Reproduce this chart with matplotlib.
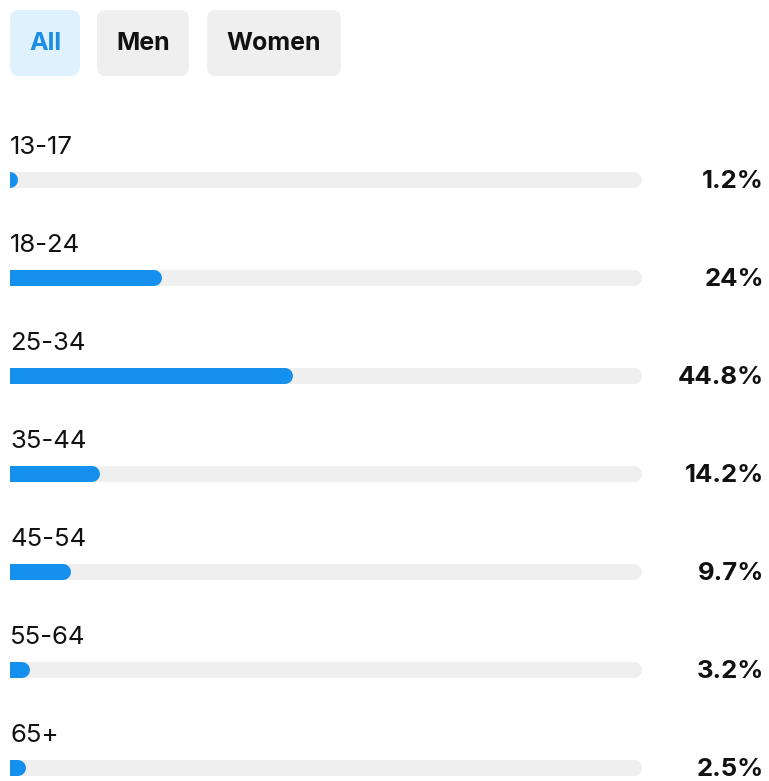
import matplotlib
matplotlib.use('Agg')
import matplotlib.pyplot as plt
from matplotlib.patches import FancyBboxPatch

# data
ages = ['13-17', '18-24', '25-34', '35-44', '45-54', '55-64', '65+']
shares = [1.2, 24, 44.8, 14.2, 9.7, 3.2, 2.5]
share_labels = ['1.2%', '24%', '44.8%', '14.2%', '9.7%', '3.2%', '2.5%']
tabs = ['All', 'Men', 'Women']

W, H = 769, 781
blue = '#1590ee'
track = '#efefef'
plt.rcParams['font.family'] = ['Inter', 'DejaVu Sans']

fig = plt.figure(figsize=(W / 100, H / 100), dpi=100)
fig.patch.set_facecolor('white')

##### tabs on top (pixel coords)
ax0 = fig.add_axes([0, 0, 1, 1])
ax0.set_xlim(0, W)
ax0.set_ylim(H, 0)
ax0.axis('off')
tab_x = [(10, 80), (97, 189), (207, 341)]
for i, (name, (x0, x1)) in enumerate(zip(tabs, tab_x)):
    fc = '#e0f1fe' if i == 0 else '#efefef'
    tc = '#1d8fe3' if i == 0 else '#111111'
    ax0.add_patch(FancyBboxPatch((x0, 10), x1 - x0, 66,
                                 boxstyle='round,pad=0,rounding_size=9',
                                 fc=fc, ec='none'))
    ax0.text((x0 + x1) / 2, 44, name, ha='center', va='center',
             fontsize=18, fontweight='bold', color=tc)

##### bars
px = 632 / 100.0          # pixels per percent
ax = fig.add_axes([10 / W, 0, 632 / W, 1])
ax.set_xlim(0, 100)
ax.set_ylim((H - 180) / 98.0, -180 / 98.0)
ax.axis('off')

lw = 16 * 0.72            # bar thickness 16 px in points
r = 8 / px                # cap radius in percent units
for i, (a, v, lab) in enumerate(zip(ages, shares, share_labels)):
    # round caps, the left one gets clipped by the axes edge
    ax.plot([-r, 100 - r], [i, i], color=track, lw=lw, solid_capstyle='round')
    ax.plot([-r, v - r], [i, i], color=blue, lw=lw, solid_capstyle='round')
    ax.text(0, i - 0.33, a, ha='left', va='center', fontsize=18.5,
            color='#111111', clip_on=False)
    ax.text(754 / 632, i + 0.02, lab, ha='right', va='center', fontsize=18.5,
            fontweight='bold', color='#111111', clip_on=False,
            transform=ax.get_yaxis_transform())

plt.savefig('out.png', dpi=100)
